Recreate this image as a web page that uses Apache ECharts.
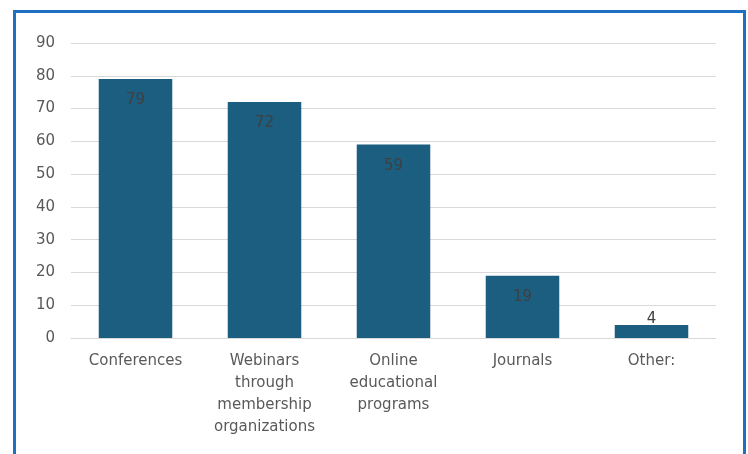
<!DOCTYPE html>
<html>
<head>
<meta charset="utf-8">
<script src="https://cdn.jsdelivr.net/npm/echarts@6/dist/echarts.min.js"></script>
<style>
  html, body { margin: 0; padding: 0; background: #fff; }
  #frame {
    position: absolute; left: 13px; top: 10px; width: 733px; height: 470px;
    border: 3px solid #1f6fc3; box-sizing: border-box;
  }
  #chart { position: absolute; left: 0; top: 0; width: 748px; height: 454px; }
</style>
</head>
<body>
<div id="frame"></div>
<div id="chart"></div>
<script>
// Sources of continuing education
const categories = ['Conferences', 'Webinars\nthrough\nmembership\norganizations', 'Online\neducational\nprograms', 'Journals', 'Other:'];
const values = [79, 72, 59, 19, 4];
const yTicks = { min: 0, max: 90, interval: 10 };

const FONT = '"DejaVu Sans", sans-serif';
const chart = echarts.init(document.getElementById('chart'), null, { renderer: 'canvas' });

chart.setOption({
  animation: false,
  grid: { left: 71, right: 32, top: 43, bottom: 116 },
  xAxis: {
    type: 'category',
    data: categories,
    axisLine: { show: true, lineStyle: { color: '#d9d9d9', width: 1 } },
    axisTick: { show: false },
    axisLabel: { color: '#595959', fontSize: 15, fontFamily: FONT, lineHeight: 22, margin: 12, interval: 0 }
  },
  yAxis: {
    type: 'value',
    min: yTicks.min, max: yTicks.max, interval: yTicks.interval,
    axisLine: { show: false },
    axisTick: { show: false },
    splitLine: { lineStyle: { color: '#d9d9d9', width: 1 } },
    axisLabel: { color: '#595959', fontSize: 15, fontFamily: FONT, margin: 16 }
  },
  series: [{
    type: 'bar',
    data: values.map(v => ({
      value: v,
      // short bars carry their label just above the bar end
      label: v < 10 ? { position: 'top', distance: -2 } : {}
    })),
    barWidth: '57%',
    itemStyle: { color: '#1b5e80' },
    label: {
      show: true, position: 'insideTop', distance: 14,
      color: '#404040', fontSize: 15, fontFamily: FONT
    }
  }]
});
</script>
</body>
</html>
